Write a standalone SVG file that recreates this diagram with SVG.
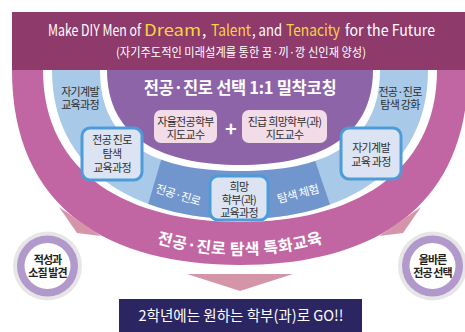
<svg xmlns="http://www.w3.org/2000/svg" width="465" height="332" viewBox="0 0 465 332">
<defs>
<style>
text{font-family:"Noto Sans CJK KR","Noto Sans",sans-serif;}
.lbl{font-size:11px;fill:#2e2e2e;text-anchor:middle;letter-spacing:-0.7px;}
.wl{fill:#ffffff;text-anchor:middle;}
.h1{fill:#ffffff;font-size:15.5px;}
.y{fill:#f6d545;}
.box{fill:#dce4f3;stroke:#4d9bd8;stroke-width:3;}
.pill{fill:#f2dce8;}
.arrow{fill:#d595a8;}
.cg{fill:#e6e6e6;}
.cp{fill:#b199cc;}
.cw{fill:#ffffff;}
.ct{font-size:11px;font-weight:bold;fill:#222;text-anchor:middle;letter-spacing:-0.9px;}
</style>
<clipPath id="blueclip"><path d="M52,70 C52,170 135,219 240,219 C345,219 428,170 428,70 Z"/></clipPath>
<path id="arcText" d="M130,234 Q240,276 350,234"/>
</defs>

<g id="rings">
<path d="M12,70 C12,210 110,265 240,265 C370,265 468,210 468,70 Z" fill="#c266a3"/>
<path d="M43,70 C43,175 130,222 240,222 C350,222 437,175 437,70 Z" fill="#ffffff"/>
<path d="M52,70 C52,170 135,219 240,219 C345,219 428,170 428,70 Z" fill="#a8c9e8"/>
<polygon points="167,140 142,225 337,225 308,140" fill="#7096cd" clip-path="url(#blueclip)"/>
<path d="M100,70 C100,146 158,171 240,171 C322,171 380,146 380,70 Z" fill="#ffffff"/>
<path d="M107,70 C107,140 165,165 240,165 C315,165 373,140 373,70 Z" fill="#8e64a8"/>
</g>

<g id="header">
<rect x="12" y="12" width="453" height="58" fill="#8e3a6b"/>
<text x="48" y="36" class="h1" textLength="93" lengthAdjust="spacingAndGlyphs">Make DIY Men of</text>
<text x="144" y="36" class="h1 y" textLength="57" lengthAdjust="spacingAndGlyphs">Dream</text>
<text x="202" y="36" class="h1">,</text>
<text x="211" y="36" class="h1 y" textLength="40" lengthAdjust="spacingAndGlyphs">Talent</text>
<text x="252" y="36" class="h1" textLength="30" lengthAdjust="spacingAndGlyphs">, and</text>
<text x="286" y="36" class="h1 y" textLength="54" lengthAdjust="spacingAndGlyphs">Tenacity</text>
<text x="345" y="36" class="h1" textLength="90" lengthAdjust="spacingAndGlyphs">for the Future</text>
<text x="241" y="57" class="wl" font-size="12" textLength="250" lengthAdjust="spacingAndGlyphs">(자기주도적인 미래설계를 통한 꿈·끼·깡 신인재 양성)</text>
</g>

<g id="title">
<text x="240" y="94" class="wl" font-size="16.5" font-weight="bold" letter-spacing="-0.3">전공·진로 선택 1:1 밀착코칭</text>
</g>

<g id="pill-advisor">
<rect x="154" y="110" width="63" height="33" rx="7" class="pill"/>
<text class="lbl" x="185.5" y="126">자율전공학부</text>
<text class="lbl" x="185.5" y="139">지도교수</text>
</g>

<g id="plus">
<text x="231" y="136" class="wl" font-size="20" font-weight="bold">+</text>
</g>

<g id="pill-target">
<rect x="242" y="110" width="85" height="33" rx="7" class="pill"/>
<text class="lbl" x="284.5" y="126">진급 희망학부(과)</text>
<text class="lbl" x="284.5" y="139">지도교수</text>
</g>

<g id="label-left-top">
<text class="lbl" x="80" y="96">자기계발</text>
<text class="lbl" x="80" y="109">교육과정</text>
</g>

<g id="label-right-top">
<text class="lbl" x="400" y="96">전공·진로</text>
<text class="lbl" x="400" y="109">탐색 강화</text>
</g>

<g id="node-left">
<rect x="82" y="128" width="60" height="52" rx="8" class="box"/>
<text class="lbl" x="112" y="144">전공 진로</text>
<text class="lbl" x="112" y="158">탐색</text>
<text class="lbl" x="112" y="172">교육과정</text>
</g>

<g id="node-right">
<rect x="341" y="128" width="60" height="51" rx="8" class="box"/>
<text class="lbl" x="371" y="152">자기계발</text>
<text class="lbl" x="371" y="166">교육 과정</text>
</g>

<g id="node-center">
<rect x="210" y="176" width="58" height="44" rx="8" class="box"/>
<text class="lbl" x="239" y="191">희망</text>
<text class="lbl" x="239" y="204">학부(과)</text>
<text class="lbl" x="239" y="217">교육과정</text>
</g>

<g id="segment-labels">
<text x="178" y="199" class="wl" font-size="11.5" letter-spacing="-0.5" transform="rotate(17 178 195)">전공·진로</text>
<text x="298" y="198" class="wl" font-size="11.5" letter-spacing="-0.5" transform="rotate(-15 298 194)">탐색 체험</text>
</g>

<g id="band-label">
<text class="wl" font-size="16" font-weight="bold" letter-spacing="0.4"><textPath href="#arcText" startOffset="50%">전공·진로 탐색 특화교육</textPath></text>
</g>

<g id="connectors">
<polygon class="arrow" points="59,207 101,236 77,233"/>
<polygon class="arrow" points="421,207 379,236 403,233"/>
<polygon class="arrow" points="187,274 293,274 240,291"/>
</g>

<g id="circle-left">
<circle cx="47.5" cy="266" r="34.5" class="cg"/>
<circle cx="47.5" cy="266" r="30.5" class="cp"/>
<circle cx="47.5" cy="266" r="23" class="cw"/>
<text class="ct" x="47.5" y="264">적성과</text>
<text class="ct" x="47.5" y="277">소질 발견</text>
</g>

<g id="circle-right">
<circle cx="432.5" cy="266" r="34.5" class="cg"/>
<circle cx="432.5" cy="266" r="30.5" class="cp"/>
<circle cx="432.5" cy="266" r="23" class="cw"/>
<text class="ct" x="432.5" y="264">올바른</text>
<text class="ct" x="432.5" y="277">전공 선택</text>
</g>

<g id="bottom-box">
<rect x="119" y="299" width="243" height="33" fill="#2b2562"/>
<text x="241" y="321" class="wl" font-size="15" textLength="205" lengthAdjust="spacingAndGlyphs">2학년에는 원하는 학부(과)로 GO!!</text>
</g>
</svg>
